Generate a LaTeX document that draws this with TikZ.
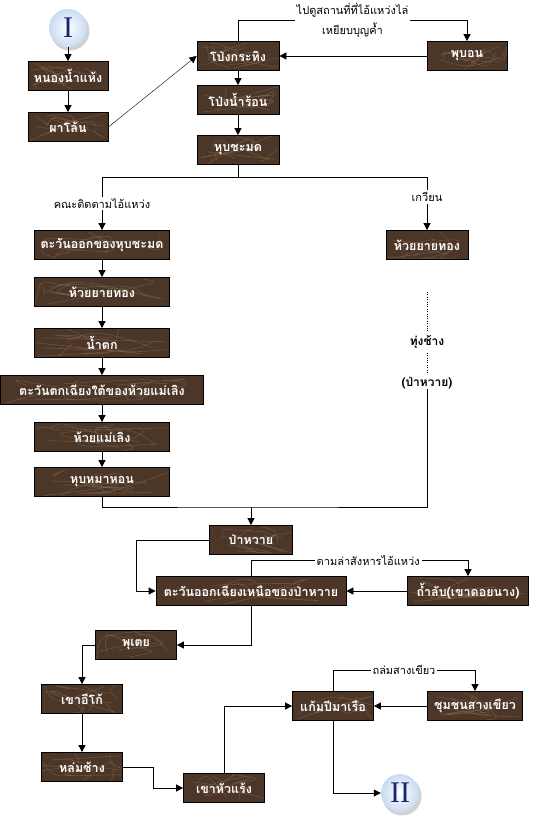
\documentclass[tikz,border=0pt]{standalone}
\usepackage{fontspec}
\newfontfamily\thai[Script=Thai]{Loma}
\newfontfamily\romfont{Liberation Serif}
\definecolor{marble}{HTML}{4C3628}
\definecolor{vein}{HTML}{A08666}
\definecolor{ballblue}{HTML}{C9DBF2}
\definecolor{navy}{HTML}{1A2370}
\usetikzlibrary{arrows.meta,calc}
\pgfmathsetseed{42}
\tikzset{
  box/.style={draw=black,line width=0.8pt,fill=marble,text=white,
              font=\thai\bfseries\fontsize{12.5}{14}\selectfont,
              minimum height=29pt,inner sep=0pt,veins},
  veins/.style={path picture={
      \foreach \k in {1,...,9}{
        \pgfmathsetmacro\xa{rnd}\pgfmathsetmacro\ya{rnd}
        \pgfmathsetmacro\xb{rnd}\pgfmathsetmacro\yb{rnd}
        \pgfmathsetmacro\xc{rnd}\pgfmathsetmacro\yc{rnd}
        \draw[vein,opacity=0.35,line width=0.6pt]
          let \p1=(path picture bounding box.south west),
              \p2=(path picture bounding box.north east) in
          (\x1+\xa*\x2-\xa*\x1,\y1+\ya*\y2-\ya*\y1)
          .. controls (\x1+\xc*\x2-\xc*\x1,\y1+\yc*\y2-\yc*\y1) ..
          (\x1+\xb*\x2-\xb*\x1,\y1+\yb*\y2-\yb*\y1);
      }}},
  ball/.style={circle,minimum size=38pt,inner sep=0pt,inner color=white,
               outer color=ballblue,text=navy,font=\romfont\fontsize{30}{30}\selectfont},
  arr/.style={-{Triangle[length=7pt,width=7pt]},line width=0.8pt},
  ln/.style={line width=0.8pt},
  lbl/.style={fill=white,inner sep=2pt,align=center,
              font=\thai\fontsize{11}{20}\selectfont},
  place/.style={font=\thai\bfseries\fontsize{12}{13}\selectfont,inner sep=0pt}
}
\begin{document}
\begin{tikzpicture}[x=1pt,y=-1pt]
    \useasboundingbox (0,0) rectangle (543,816);
    % start and end marks
    \fill[gray!35] (70,31) circle (19.5);
    \node[ball] (start) at (68,28) {I};
    \fill[gray!35] (402,796) circle (19.5);
    \node[ball] (finish) at (400,793) {II};
    % first part
    \node[box,minimum width=80pt]  (nongnam) at (68,76)  {หนองน้ำแห้ง};
    \node[box,minimum width=80pt]  (phalon)  at (68,127) {ผาโล้น};
    \node[box,minimum width=82pt]  (pongkra) at (238,56) {โป่งกระทิง};
    \node[box,minimum width=82pt]  (pongnam) at (238,100) {โป่งน้ำร้อน};
    \node[box,minimum width=82pt]  (hubcha)  at (238,150) {หุบชะมด};
    \node[box,minimum width=80pt]  (phubon)  at (467,56) {พุบอน};
    % left branch
    \node[box,minimum width=135pt] (tawanok)  at (102,245) {ตะวันออกของหุบชะมด};
    \node[box,minimum width=135pt] (huaiyai)  at (102,292) {ห้วยยายทอง};
    \node[box,minimum width=135pt] (namtok)   at (102,343) {น้ำตก};
    \node[box,minimum width=203pt] (tawantok) at (102,390) {ตะวันตกเฉียงใต้ของห้วยแม่เลิง};
    \node[box,minimum width=135pt] (huaimae)  at (102,437) {ห้วยแม่เลิง};
    \node[box,minimum width=135pt] (hubma)    at (102,482) {หุบหมาหอน};
    % right branch
    \node[box,minimum width=82pt]  (huaiyai2) at (427,245) {ห้วยยายทอง};
    \node[place] (thung)  at (427,342) {ทุ่งช้าง};
    \node[place] (pawai2) at (427,383) {(ป่าหวาย)};
    % second part
    \node[box,minimum width=83pt]  (pawai)    at (251,540) {ป่าหวาย};
    \node[box,minimum width=190pt] (tawanne)  at (251,591) {ตะวันออกเฉียงเหนือของป่าหวาย};
    \node[box,minimum width=121pt] (thamlap)  at (468,591) {ถ้ำลับ(เขาดอยนาง)};
    \node[box,minimum width=81pt]  (phutoei)  at (136,645) {พุเตย};
    \node[box,minimum width=81pt]  (khaoiko)  at (82,699)  {เขาอีโก้};
    \node[box,minimum width=81pt]  (lomchang) at (82,767)  {หล่มช้าง};
    \node[box,minimum width=81pt]  (khaohua)  at (224,788) {เขาหัวแร้ง};
    \node[box,minimum width=81pt]  (kaem)     at (333,706) {แก้มปีมาเรือ};
    \node[box,minimum width=95pt]  (chumchon) at (475,706) {ชุมชนสางเขียว};
    \coordinate (join) at (251,507);

    \draw[arr] (start) -- (nongnam);
    \draw[arr] (nongnam) -- (phalon);
    \draw[-{Triangle[length=7pt,width=7pt]},thin] (phalon.east) -- (pongkra.west);
    \draw[arr] (pongkra) -- (pongnam);
    \draw[arr] (pongnam) -- (hubcha);
    \draw[arr] (pongkra.north) -- ++(0,-21) -| node[lbl,pos=0.25]{ไปดูสถานที่ที่ไอ้แหว่งไล่\\เหยียบบุญค้ำ} (phubon.north);
    \draw[arr] (phubon) -- (pongkra);
    \draw[arr] (hubcha.south) -- ++(0,12) -| node[lbl,pos=0.75]{คณะติดตามไอ้แหว่ง} (tawanok.north);
    \draw[arr] (hubcha.south) -- ++(0,12) -| node[lbl,pos=0.69]{เกวียน} (huaiyai2.north);
    \draw[arr] (tawanok) -- (huaiyai);
    \draw[arr] (huaiyai) -- (namtok);
    \draw[arr] (namtok) -- (tawantok);
    \draw[arr] (tawantok) -- (huaimae);
    \draw[arr] (huaimae) -- (hubma);
    \draw[dotted,shorten <=32pt,shorten >=4pt] (huaiyai2.south) -- (thung);
    \draw[dotted,shorten <=4pt,shorten >=4pt] (thung) -- (pawai2);
    \draw[ln] (hubma.south) |- (join) -| (pawai2.south);
    \draw[arr] (join) -- (pawai.north);
    \draw[arr] (pawai.west) -- ++(-73,0) |- (tawanne.west);
    \draw[arr] (tawanne.north) -- ++(0,-16) -| node[lbl,pos=0.27]{ตามล่าสังหารไอ้แหว่ง} (thamlap.north);
    \draw[arr] (thamlap) -- (tawanne);
    \draw[arr] (tawanne.south) |- (phutoei.east);
    \draw[arr] (phutoei.west) -| (khaoiko.north);
    \draw[arr] (khaoiko) -- (lomchang);
    \draw[arr] (lomchang.east) -- ++(30,0) |- (khaohua.west);
    \draw[arr] (khaohua.north) |- (kaem.west);
    \draw[arr] (chumchon) -- (kaem);
    \draw[arr] (kaem.north) -- ++(0,-21) -| node[lbl,pos=0.25]{ถล่มสางเขียว} (chumchon.north);
    \draw[arr] (kaem.south) |- (finish.west);
\end{tikzpicture}
\end{document}
